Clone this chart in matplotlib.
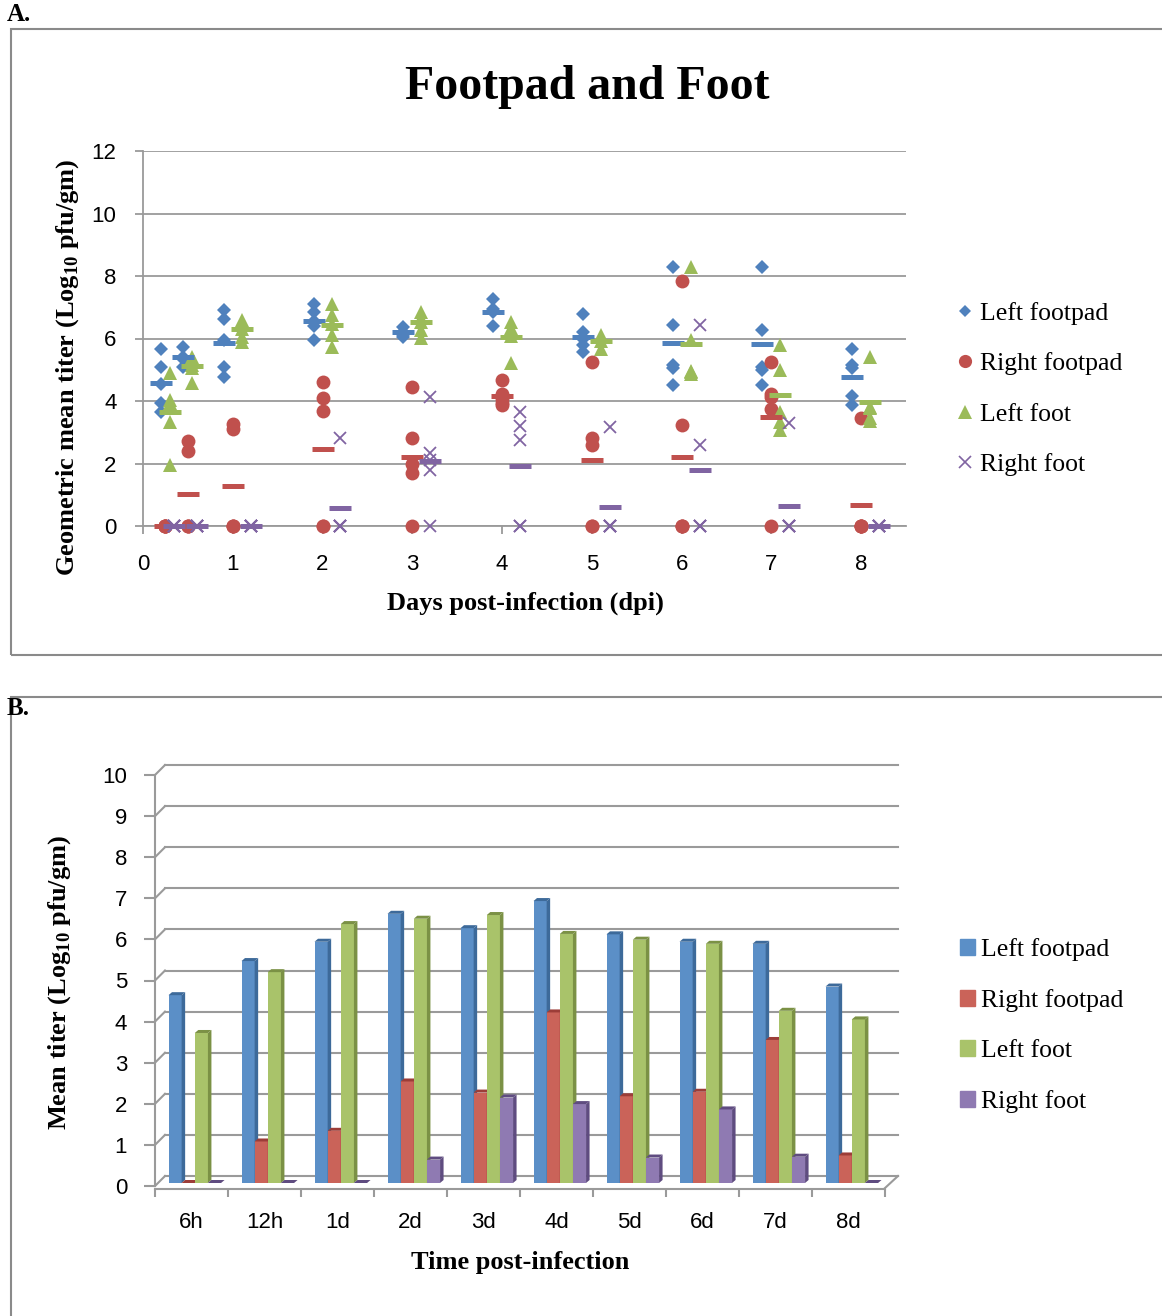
import matplotlib.pyplot as plt
from matplotlib.lines import Line2D
from matplotlib.patches import Polygon, Rectangle, Patch
import numpy as np

plt.rcParams['font.family'] = 'Liberation Serif'
plt.rcParams['mathtext.fontset'] = 'custom'
plt.rcParams['mathtext.rm'] = 'Liberation Serif:bold'
plt.rcParams['mathtext.bf'] = 'Liberation Serif:bold'

# ---- data ----
days = [0.25, 0.5, 1, 2, 3, 4, 5, 6, 7, 8]
time_labels = ['6h', '12h', '1d', '2d', '3d', '4d', '5d', '6d', '7d', '8d']
series_names = ['Left footpad', 'Right footpad', 'Left foot', 'Right foot']

# individual animals, log10 pfu/gm, one list per time point
left_footpad = [
    [5.66, 5.08, 4.55, 3.95, 3.64],
    [5.74, 5.40, 5.35, 5.10],
    [6.91, 6.64, 5.95, 5.08, 4.78],
    [7.12, 6.86, 6.56, 6.40, 5.95],
    [6.38, 6.22, 6.10, 6.05],
    [7.25, 6.95, 6.86, 6.40],
    [6.78, 6.22, 6.00, 5.79, 5.58],
    [8.30, 6.43, 5.15, 5.05, 4.51],
    [8.30, 6.27, 5.10, 4.98, 4.51],
    [5.65, 5.15, 5.05, 4.16, 3.87],
]
right_footpad = [
    [0, 0, 0, 0, 0],
    [2.73, 2.40, 0, 0, 0],
    [3.28, 3.12, 0, 0, 0],
    [4.62, 4.11, 3.68, 0, 0],
    [4.44, 2.81, 2.00, 1.71, 0],
    [4.67, 4.24, 4.05, 3.93, 3.88],
    [5.26, 2.81, 2.59, 0, 0],
    [7.84, 3.23, 0, 0, 0],
    [5.26, 4.24, 4.12, 3.73, 0],
    [3.45, 0, 0, 0, 0],
]
left_foot = [
    [4.89, 4.03, 3.95, 3.34, 1.95],
    [5.42, 5.30, 5.15, 5.05, 4.57],
    [6.59, 6.45, 6.30, 6.04, 5.90],
    [7.12, 6.75, 6.45, 6.11, 5.74],
    [6.86, 6.65, 6.54, 6.27, 6.02],
    [6.54, 6.33, 6.08, 5.23],
    [6.11, 5.93, 5.68],
    [8.30, 5.95, 4.97, 4.93, 4.85],
    [5.79, 4.99, 3.66, 3.34, 3.07],
    [5.40, 3.80, 3.77, 3.45, 3.35],
]
right_foot = [
    [0, 0, 0, 0, 0],
    [0, 0, 0, 0, 0],
    [0, 0, 0, 0, 0],
    [2.81, 0, 0, 0, 0],
    [4.12, 2.33, 2.10, 1.79, 0],
    [3.64, 3.21, 2.75, 0, 0],
    [3.18, 0, 0, 0, 0],
    [6.43, 2.59, 0, 0, 0],
    [3.31, 0, 0, 0, 0],
    [0, 0, 0, 0, 0],
]

# group means (also the bar heights in panel B)
left_footpad_mean = [4.57, 5.40, 5.87, 6.55, 6.20, 6.86, 6.05, 5.87, 5.82, 4.78]
right_footpad_mean = [0.00, 1.01, 1.27, 2.47, 2.20, 4.15, 2.11, 2.22, 3.48, 0.67]
left_foot_mean = [3.65, 5.13, 6.30, 6.43, 6.52, 6.06, 5.92, 5.82, 4.19, 3.98]
right_foot_mean = [0.00, 0.00, 0.00, 0.57, 2.08, 1.92, 0.62, 1.79, 0.64, 0.00]

points = [left_footpad, right_footpad, left_foot, right_foot]
means = [left_footpad_mean, right_footpad_mean, left_foot_mean, right_foot_mean]

colors = ['#4F81BD', '#C0504D', '#9BBB59', '#8064A2']
front_cols = ['#5B8FC7', '#CA6359', '#A9C36A', '#8F7AB2']
side_cols = ['#3D6A9A', '#9C3D38', '#7B9145', '#5F4C80']
markers = ['D', 'o', '^', 'x']
msizes = [6.8, 10, 10, 8.5]

grid_col = '#9A9A9A'

W, H = 1162, 1316
fig = plt.figure(figsize=(W / 100, H / 100), dpi=100)

# panel frames and letters
fig.add_artist(Rectangle((11 / W, 1 - 655 / H), 1.2, 626 / H, transform=fig.transFigure,
                         fill=False, ec='#8A8A8A', lw=1.5))
fig.add_artist(Rectangle((11 / W, -0.1), 1.2, 0.1 + 1 - 697 / H, transform=fig.transFigure,
                         fill=False, ec='#8A8A8A', lw=1.5))
fig.text(7 / W, 1 - 3 / H, 'A.', fontsize=18, fontweight='bold', va='top')
fig.text(7 / W, 1 - 697 / H, 'B.', fontsize=18, fontweight='bold', va='top')

# ---------------- Panel A ----------------
ax = fig.add_axes([143 / W, 1 - 526 / H, 763 / W, 375 / H])
ax.set_xlim(0, 8.5)
ax.set_ylim(0, 12)
for s in ['top', 'right']:
    ax.spines[s].set_visible(False)
for s in ['left', 'bottom']:
    ax.spines[s].set_color(grid_col)
    ax.spines[s].set_linewidth(1.3)
ax.set_yticks(range(0, 13, 2))
ax.set_xticks(range(0, 9))
ax.grid(axis='y', color=grid_col, lw=1.3)
ax.set_axisbelow(True)
ax.tick_params(axis='y', length=6, color=grid_col, width=1.3, pad=13)
ax.tick_params(axis='x', length=6, color=grid_col, width=1.3, pad=14)
for lab in ax.get_xticklabels() + ax.get_yticklabels():
    lab.set_fontfamily('Liberation Sans')
    lab.set_fontsize(16)

for k in range(4):
    for t, vals in zip(days, points[k]):
        step = 0.05 if t < 1 else 0.1
        x = t + (k - 1) * step
        ax.plot([x] * len(vals), vals, ls='none', marker=markers[k], ms=msizes[k],
                color=colors[k], mew=1.3 if markers[k] == 'x' else 0,
                clip_on=False, zorder=3)
    xs = [t + (k - 1) * (0.05 if t < 1 else 0.1) for t in days]
    ax.plot(xs, means[k], ls='none', marker='_', ms=16.5, mew=3.6,
            color=colors[k], clip_on=False, zorder=4)

fig.text(587 / W, 1 - 87 / H, 'Footpad and Foot', fontsize=34.5, fontweight='bold',
         ha='center', va='center')
fig.text(525 / W, 1 - 603 / H, 'Days post-infection (dpi)', fontsize=19,
         fontweight='bold', ha='center', va='center')
fig.text(68 / W, 1 - 367 / H, r'Geometric mean titer (Log$_{\mathbf{10}}$ pfu/gm)',
         fontsize=19, fontweight='bold', ha='center', va='center', rotation=90)

handles_a = [Line2D([], [], ls='none', marker=m, color=c, ms=s * 0.95,
                    mew=1.2 if m == 'x' else 0)
             for m, c, s in zip(markers, colors, msizes)]
fig.legend(handles_a, series_names, loc='upper left',
           bbox_to_anchor=(956 / W, 1 - 302 / H), frameon=False, fontsize=18.5,
           handlelength=0.7, handletextpad=0.25, labelspacing=1.07, borderpad=0,
           borderaxespad=0)

# ---------------- Panel B ----------------
bx = fig.add_axes([155 / W, 1 - 1186 / H, 730 / W, 411 / H])
bx.set_xlim(0, 10)
bx.set_ylim(0, 10)
ux = 10 / 730   # data units per pixel
uy = 10 / 411
for s in ['top', 'right']:
    bx.spines[s].set_visible(False)
for s in ['left', 'bottom']:
    bx.spines[s].set_color(grid_col)
    bx.spines[s].set_linewidth(1.5)
bx.spines['bottom'].set_position(('outward', 2))
bx.set_yticks(range(0, 11))
bx.set_xticks(range(0, 11))
bx.set_xticklabels([])
bx.set_xticks(np.arange(10) + 0.5, minor=True)
bx.set_xticklabels(time_labels, minor=True)
bx.tick_params(axis='x', which='major', length=6, color=grid_col, width=1.5)
bx.tick_params(axis='x', which='minor', length=0, pad=17)
bx.tick_params(axis='y', length=8, color=grid_col, width=1.5, pad=12)
for lab in bx.get_xticklabels(minor=True) + bx.get_yticklabels():
    lab.set_fontfamily('Liberation Sans')
    lab.set_fontsize(16)

# back wall, side wall and floor of the 3-D frame
dep = 10
for v in range(11):
    bx.plot([dep * ux, 10 + (dep + 3) * ux], [v + dep * uy] * 2, color=grid_col,
            lw=1.5, clip_on=False, zorder=0)
    bx.plot([0, dep * ux], [v, v + dep * uy], color=grid_col, lw=1.5,
            clip_on=False, zorder=0)
bx.plot([10, 10 + (dep + 3) * ux], [-2 * uy, dep * uy], color=grid_col, lw=1.5,
        clip_on=False, zorder=0)

bw = 0.18
sx, sy = 3.5 * ux, 3 * uy
for k in range(4):
    lefts = np.arange(10) + 0.185 + k * bw
    bars = bx.bar(lefts, means[k], width=bw, bottom=3 * uy, align='edge',
                  color=front_cols[k], lw=0, zorder=2 + k)
    for r in bars:
        x0, y0, w, h = r.get_x(), r.get_y(), r.get_width(), r.get_height()
        side = Polygon([(x0 + w, y0), (x0 + w + sx, y0 + sy),
                        (x0 + w + sx, y0 + h + sy), (x0 + w, y0 + h)],
                       closed=True, fc=side_cols[k], lw=0, zorder=2 + k,
                       clip_on=False)
        top = Polygon([(x0, y0 + h), (x0 + w, y0 + h), (x0 + w + sx, y0 + h + sy),
                       (x0 + sx, y0 + h + sy)], closed=True, fc=side_cols[k],
                      lw=0, zorder=2 + k, clip_on=False)
        bx.add_patch(side)
        bx.add_patch(top)

fig.text(520 / W, 1 - 1263 / H, 'Time post-infection', fontsize=19,
         fontweight='bold', ha='center', va='center')
fig.text(60 / W, 1 - 982 / H, r'Mean titer (Log$_{\mathbf{10}}$ pfu/gm)',
         fontsize=19, fontweight='bold', ha='center', va='center', rotation=90)

handles_b = [Patch(color=c) for c in front_cols]
fig.legend(handles_b, series_names, loc='upper left',
           bbox_to_anchor=(960 / W, 1 - 938 / H), frameon=False, fontsize=18.5,
           handlelength=0.6, handleheight=0.6, handletextpad=0.2,
           labelspacing=1.09, borderpad=0, borderaxespad=0)

fig.savefig('out.png', dpi=100)
